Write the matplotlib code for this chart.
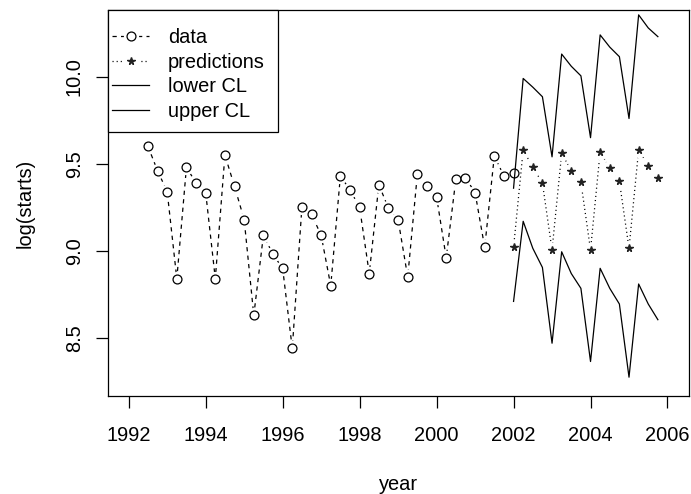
import matplotlib
matplotlib.use("Agg")
import matplotlib.pyplot as plt
from matplotlib.patches import Rectangle
from matplotlib.ticker import FormatStrFormatter

plt.rcParams['font.family'] = ['Liberation Sans', 'DejaVu Sans']
FONT_SIZE = 14.4

# observed quarterly series
data_time = [1992.50, 1992.75, 1993.00, 1993.25, 1993.50, 1993.75, 1994.00, 1994.25,
             1994.50, 1994.75, 1995.00, 1995.25, 1995.50, 1995.75, 1996.00, 1996.25,
             1996.50, 1996.75, 1997.00, 1997.25, 1997.50, 1997.75, 1998.00, 1998.25,
             1998.50, 1998.75, 1999.00, 1999.25, 1999.50, 1999.75, 2000.00, 2000.25,
             2000.50, 2000.75, 2001.00, 2001.25, 2001.50, 2001.75, 2002.00]
log_starts = [9.60, 9.46, 9.34, 8.84, 9.48, 9.39, 9.335, 8.84,
              9.55, 9.37, 9.18, 8.63, 9.09, 8.98, 8.90, 8.44,
              9.25, 9.21, 9.09, 8.80, 9.43, 9.35, 9.25, 8.87,
              9.38, 9.245, 9.18, 8.85, 9.44, 9.37, 9.31, 8.96,
              9.41, 9.42, 9.335, 9.02, 9.545, 9.43, 9.45]

# forecasts and limits
pred_time = [2002.00, 2002.25, 2002.50, 2002.75, 2003.00, 2003.25, 2003.50, 2003.75,
             2004.00, 2004.25, 2004.50, 2004.75, 2005.00, 2005.25, 2005.50, 2005.75]
predictions = [9.02, 9.58, 9.48, 9.39, 9.005, 9.56, 9.46, 9.395,
               9.005, 9.57, 9.475, 9.40, 9.015, 9.58, 9.49, 9.42]
lower_cl = [8.71, 9.17, 9.015, 8.905, 8.47, 8.995, 8.87, 8.785,
            8.365, 8.90, 8.785, 8.695, 8.275, 8.81, 8.695, 8.605]
upper_cl = [9.36, 9.99, 9.94, 9.885, 9.54, 10.13, 10.06, 10.005,
            9.65, 10.24, 10.17, 10.115, 9.76, 10.355, 10.28, 10.23]

x_ticks = [1992, 1994, 1996, 1998, 2000, 2002, 2004, 2006]
y_ticks = [8.5, 9.0, 9.5, 10.0]

W, H = 691, 494
AX_L, AX_R, AX_T, AX_B = 107.7, 688.7, 10, 396
ax_w, ax_h = AX_R - AX_L, AX_B - AX_T

fig = plt.figure(figsize=(W / 100, H / 100), dpi=100)
ax = fig.add_axes([AX_L / W, 1 - AX_B / H, ax_w / W, ax_h / H])

# white discs under the points leave the gaps of an R type="b" line
gap = dict(marker='o', markersize=11, markerfacecolor='white',
           markeredgecolor='white', markeredgewidth=0)

data_line, = ax.plot(data_time, log_starts, color='black', lw=0.9,
                     dashes=(3.4, 3.4), **gap)
data_pts, = ax.plot(data_time, log_starts, ls='none', marker='o', ms=6.4,
                    mfc='white', mec='black', mew=0.9)

pred_line, = ax.plot(pred_time, predictions, color='black', lw=0.9,
                     dashes=(0.9, 2.4), **gap)
pred_pts, = ax.plot(pred_time, predictions, ls='none', marker='*', ms=5.3,
                    color='#222222')

lower_line, = ax.plot(pred_time, lower_cl, color='black', lw=0.9)
upper_line, = ax.plot(pred_time, upper_cl, color='black', lw=0.9)

ax.set_xlim(1991.454, 2006.551)
ax.set_ylim(8.167, 10.383)
ax.set_xticks(x_ticks)
ax.set_yticks(y_ticks)
ax.yaxis.set_major_formatter(FormatStrFormatter('%.1f'))
ax.tick_params(direction='out', length=8.6, width=0.9, labelsize=FONT_SIZE,
               colors='black')
ax.tick_params(axis='x', pad=13)
ax.tick_params(axis='y', pad=8.6, labelrotation=90)
for lbl in ax.get_yticklabels():
    lbl.set_va('center')

for sp in ax.spines.values():
    sp.set_linewidth(0.9)

ax.set_xlabel('year', fontsize=FONT_SIZE)
ax.xaxis.set_label_coords(0.5, (AX_B - 489.5) / ax_h)
ax.xaxis.label.set_va('baseline')
ax.set_ylabel('log(starts)', fontsize=FONT_SIZE)
ax.yaxis.set_label_coords((31 - AX_L) / ax_w, 0.5)
ax.yaxis.label.set_va('baseline')

# legend box drawn by hand, R style (wide vertical padding, tight left edge)
box_w = (278.3 - AX_L) / ax_w
box_h = (131.7 - AX_T) / ax_h
ax.add_patch(Rectangle((0, 1 - box_h), box_w, box_h, transform=ax.transAxes,
                       facecolor='white', edgecolor='black', lw=0.9,
                       zorder=4.5, clip_on=False))

leg = ax.legend([(data_line, data_pts), (pred_line, pred_pts), lower_line, upper_line],
                ['data', 'predictions', 'lower CL', 'upper CL'],
                loc='upper left', bbox_to_anchor=(0, 1 - 14 / ax_h),
                borderaxespad=0, frameon=False, fontsize=FONT_SIZE,
                handlelength=1.88, handletextpad=0.92, labelspacing=0.28,
                borderpad=0.2)

fig.savefig('out.png', dpi=100)
